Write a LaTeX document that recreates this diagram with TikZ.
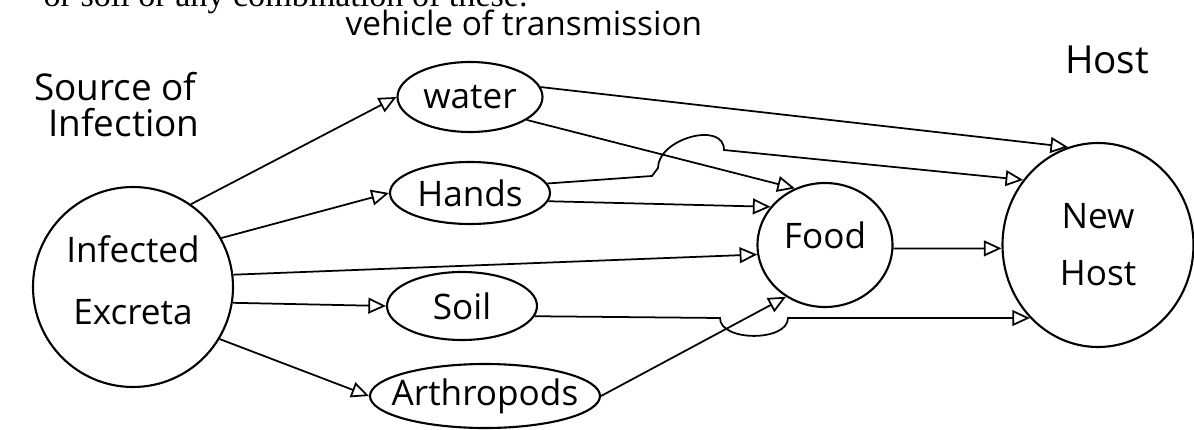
\documentclass[tikz,border=0pt]{standalone}
\usepackage{fontspec}
\setmainfont{Open Sans}
\newfontfamily\printfont{Liberation Serif}
\usetikzlibrary{shapes.geometric,arrows.meta}
\begin{document}
\begin{tikzpicture}[
    blob/.style={draw, ellipse, line width=0.6pt, inner sep=0pt, font=\fontsize{10}{12}\selectfont},
    lab/.style={inner sep=0pt, font=\fontsize{10.5}{12}\selectfont},
    flow/.style={line width=0.5pt, -{Triangle[open, length=5pt, width=4.5pt]}}]
  \clip (0,0) rectangle (11.94,-4.30);
  % cut-off line of the printed page
  \node[anchor=base west, inner sep=0pt, font=\printfont\fontsize{9.7}{11}\selectfont] (note) at (0.43,-0.07) {or soil or any combination of these.};
  % headings
  \node[anchor=west, inner sep=0pt, font=\fontsize{9.5}{11}\selectfont] (vlab) at (3.45,-0.23) {vehicle of transmission};
  \node[lab, anchor=east] (src1) at (1.97,-0.87) {Source of};
  \node[lab, anchor=east] (src2) at (2.00,-1.23) {Infection};
  \node[lab, font=\fontsize{11}{13}\selectfont] (hlab) at (11.07,-0.60) {Host};
  % source
  \node[blob, circle, minimum size=2cm, align=center, text depth=0.14cm, font=\fontsize{10}{17.6}\selectfont] (excreta) at (1.33,-2.87) {Infected\\Excreta};
  % vehicles
  \node[blob, minimum width=1.45cm, minimum height=0.70cm] (water) at (4.70,-0.97) {water};
  \node[blob, minimum width=1.60cm, minimum height=0.62cm] (hands) at (4.70,-1.93) {Hands};
  \node[blob, minimum width=1.50cm, minimum height=0.68cm] (soil) at (4.62,-3.06) {Soil};
  \node[blob, inner xsep=-0.5cm, minimum width=2.30cm, minimum height=0.64cm] (arthro) at (4.85,-3.96) {Arthropods};
  \node[blob, text depth=0.2cm, minimum width=1.35cm, minimum height=1.24cm] (food) at (8.25,-2.45) {Food};
  % host
  \node[blob, minimum width=1.91cm, minimum height=2.04cm, align=center, font=\fontsize{10}{16.2}\selectfont] (newhost) at (10.98,-2.45) {New\\Host};
  % excreta to vehicles
  \draw[flow] (excreta.55) -- (water.west);
  \draw[flow] (excreta.29) -- (hands.west);
  \draw[flow] (excreta.7) -- (food.188);
  \draw[flow] (excreta.-9) -- (soil.west);
  \draw[flow] (excreta.-31) -- (arthro.west);
  % vehicles to food and host
  \draw[flow] (water.8) -- (newhost.107);
  \draw[flow] (water.-22) -- (food.118);
  \draw[flow] (hands.7) -- (6.52,-1.76) -- (6.58,-1.68) to[out=90, in=90, looseness=1.1] (7.24,-1.50) -- (newhost.139);
  \draw[flow] (hands.-6) -- (food.145);
  \draw[flow] (food.-3) -- (newhost.182);
  \draw[flow] (soil.-8) -- (7.20,-3.18) to[out=-90, in=-90, looseness=0.9] (7.88,-3.18) -- (newhost.227);
  \draw[flow] (arthro.east) -- (food.233);
\end{tikzpicture}
\end{document}
